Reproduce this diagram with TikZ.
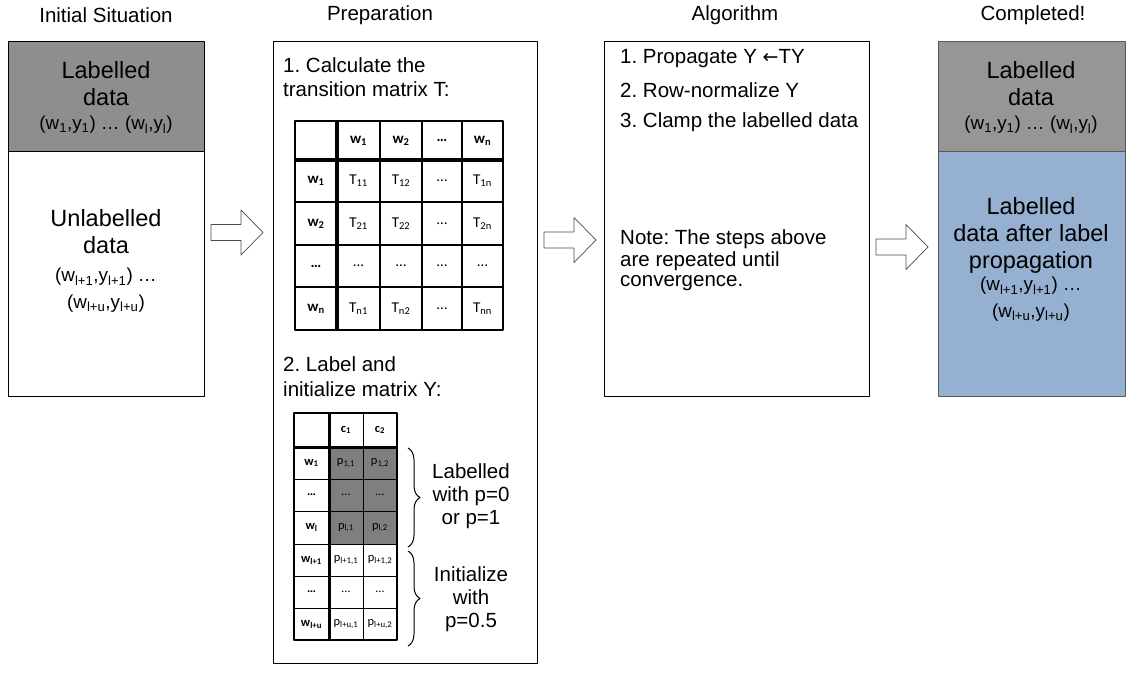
\documentclass[tikz,border=0pt]{standalone}
\usepackage{fontspec}
\setmainfont{Liberation Sans}
\newfontfamily\tabfont{Carlito}
\newfontfamily\arrowfont{DejaVu Sans}
\usetikzlibrary{decorations.pathreplacing}

\definecolor{labgray}{RGB}{142,142,142}
\definecolor{labgraytwo}{RGB}{150,150,150}
\definecolor{cellgray}{RGB}{127,127,127}
\definecolor{propblue}{RGB}{149,176,208}

\newcommand{\sbx}[1]{\textsubscript{#1}}
\newcommand{\blockarrow}[2]{%
  \draw[arrowline] (#1,#2-8) -- ++(30,0) -- ++(0,-14.5) -- (#1+52,#2)
    -- (#1+30,#2+22.5) -- ++(0,-14.5) -- (#1,#2+8) -- cycle;}

\begin{document}
\frenchspacing
\begin{tikzpicture}[x=1pt, y=-1pt, line join=round,
    title/.style={font=\fontsize{20.5}{22}\selectfont},
    bigtxt/.style={font=\fontsize{23.5}{27}\selectfont, align=center},
    tuple/.style={font=\fontsize{18.8}{26.5}\selectfont, align=center},
    steptxt/.style={font=\fontsize{20.5}{22}\selectfont, anchor=west, inner sep=0pt},
    bracetxt/.style={font=\fontsize{20.5}{23}\selectfont, align=center},
    thead/.style={font=\tabfont\bfseries\fontsize{15}{17}\selectfont},
    tcell/.style={font=\tabfont\fontsize{15}{17}\selectfont},
    yhead/.style={font=\tabfont\bfseries\fontsize{12.5}{14}\selectfont},
    ycell/.style={font=\tabfont\fontsize{12.5}{14}\selectfont},
    boxline/.style={line width=0.8pt},
    cellline/.style={line width=1.2pt},
    sepline/.style={line width=3.5pt},
    arrowline/.style={draw=black!70, fill=white, line width=0.7pt}]
  \useasboundingbox (0,0) rectangle (1129,673);

  % column titles
  \node[title] (tinit) at (106,15) {Initial Situation};
  \node[title] (tprep) at (380,15) {Preparation};
  \node[title] (talgo) at (735,15) {Algorithm};
  \node[title] (tdone) at (1033,15) {Completed!};

  % initial situation
  \fill[labgray] (8,41) rectangle (204,151);
  \draw[boxline] (8,151) -- (204,151);
  \draw[boxline] (8,41) rectangle (204,396);
  \node[bigtxt] (lab) at (106,84) {Labelled\\data};
  \node[tuple] (labw) at (106,125) {(w\sbx{1},y\sbx{1}) … (w\sbx{l},y\sbx{l})};
  \node[bigtxt] (unlab) at (106,232) {Unlabelled\\data};
  \node[tuple] (unlabw) at (106,290) {(w\sbx{l+1},y\sbx{l+1}) …\\(w\sbx{l+u},y\sbx{l+u})};

  % preparation
  \draw[boxline] (273,41) rectangle (537,663);
  \node[steptxt] (calc1) at (283,65) {1. Calculate the};
  \node[steptxt] (calc2) at (283,89) {transition matrix T:};
  \node[steptxt] (init1) at (283,364) {2. Label and};
  \node[steptxt] (init2) at (283,389) {initialize matrix Y:};

  % transition matrix T
  \foreach \xx in {380,422,462} \draw[cellline] (\xx,121) -- (\xx,330);
  \foreach \yy in {202,245,287} \draw[cellline] (295,\yy) -- (503,\yy);
  \draw[sepline] (295,160) -- (503,160);
  \draw[sepline] (337,121) -- (337,330);
  \draw[line width=2pt] (295,121) rectangle (503,330);
  \foreach \n/\xc/\txt in {1/358.5/w\sbx{1}, 2/401/w\sbx{2}, d/442/…, n/482.5/w\sbx{n}}
    \node[thead] (tc\n) at (\xc,140.5) {\txt};
  \foreach \n/\yc/\txt in {1/181/w\sbx{1}, 2/223.5/w\sbx{2}, d/266/…, n/308.5/w\sbx{n}}
    \node[thead] (tr\n) at (316,\yc) {\txt};
  \foreach \r/\yc in {1/181, 2/223.5, n/308.5}
    \foreach \c/\xc in {1/358.5, 2/401, n/482.5}
      \node[tcell] (t\r\c) at (\xc,\yc) {T\sbx{\r\c}};
  \foreach \n/\xc in {1/358.5, 2/401, d/442, n/482.5}
    \node[tcell] (td\n) at (\xc,266) {…};
  \foreach \n/\yc in {1/181, 2/223.5, n/308.5}
    \node[tcell] (t\n d) at (442,\yc) {…};

  % matrix Y
  \fill[cellgray] (329,447) rectangle (397,544);
  \draw[line width=1pt] (363,413) -- (363,640);
  \foreach \yy in {479,511,544,576,608} \draw[line width=1pt] (294,\yy) -- (397,\yy);
  \draw[line width=3pt] (294,447) -- (397,447);
  \draw[line width=3pt] (329,413) -- (329,640);
  \draw[line width=1.5pt] (294,413) rectangle (397,640);
  \node[yhead] (yc1) at (346,430) {c\sbx{1}};
  \node[yhead] (yc2) at (380,430) {c\sbx{2}};
  \foreach \n/\yc/\txt in {a/463/w\sbx{1}, b/495/…, c/527.5/w\sbx{l}, d/560/w\sbx{l+1}, e/592/…, f/624/w\sbx{l+u}}
    \node[yhead] (yr\n) at (311.5,\yc) {\txt};
  \foreach \r/\n/\yc in {1/a/463, l/c/527.5, l+1/d/560, l+u/f/624}
    \foreach \c/\xc in {1/346, 2/380}
      \node[ycell] (y\n\c) at (\xc,\yc) {p\sbx{\r,\c}};
  \foreach \n/\yc in {b/495, e/592}
    \foreach \c/\xc in {1/346, 2/380}
      \node[ycell] (y\n\c) at (\xc,\yc) {…};

  % braces
  \draw[line width=1pt, decorate, decoration={brace, amplitude=12pt}] (408,448) -- (408,547);
  \draw[line width=1pt, decorate, decoration={brace, amplitude=12pt}] (408,551) -- (408,646);
  \node[bracetxt] (fixed) at (471,496) {Labelled\\with p=0\\or p=1};
  \node[bracetxt] (free) at (471,599) {Initialize\\with\\p=0.5};

  % algorithm
  \draw[boxline] (604,41) rectangle (869,396);
  \node[steptxt] (step1) at (620,59) {1. Propagate Y {\arrowfont\fontsize{19}{22}\selectfont ←}TY};
  \node[steptxt] (step2) at (620,90) {2. Row-normalize Y};
  \node[steptxt] (step3) at (620,122) {3. Clamp the labelled data};
  \node[steptxt] (note1) at (620,239) {Note: The steps above};
  \node[steptxt] (note2) at (620,261) {are repeated until};
  \node[steptxt] (note3) at (620,283) {convergence.};

  % completed
  \fill[labgraytwo] (938,41) rectangle (1125,151);
  \fill[propblue] (938,151) rectangle (1125,396);
  \draw[boxline, draw=black!65] (938,151) -- (1125,151);
  \draw[boxline, draw=black!65] (938,41) rectangle (1125,396);
  \node[bigtxt] (lab2) at (1031,84) {Labelled\\data};
  \node[tuple] (labw2) at (1031,125) {(w\sbx{1},y\sbx{1}) … (w\sbx{l},y\sbx{l})};
  \node[bigtxt] (prop) at (1031,235) {Labelled\\data after label\\propagation};
  \node[tuple] (propw) at (1031,299) {(w\sbx{l+1},y\sbx{l+1}) …\\(w\sbx{l+u},y\sbx{l+u})};

  % block arrows
  \blockarrow{211}{232.5}
  \blockarrow{544}{240}
  \blockarrow{876}{247}
\end{tikzpicture}
\end{document}
